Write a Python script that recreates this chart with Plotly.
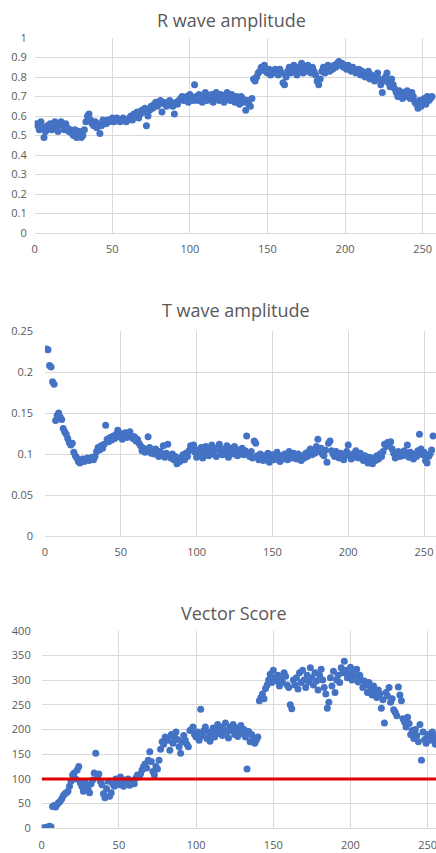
import plotly.graph_objects as go

# ---------------- data ----------------
beat_index = list(range(1, 257))

r_wave = [
    0.56, 0.55, 0.53, 0.57, 0.54, 0.49, 0.52, 0.55, 0.54, 0.56, 0.53, 0.55, 0.57, 0.54, 0.52, 0.56,
    0.57, 0.55, 0.53, 0.56, 0.54, 0.52, 0.53, 0.51, 0.50, 0.53, 0.49, 0.51, 0.52, 0.49, 0.50, 0.53,
    0.57, 0.60, 0.61, 0.58, 0.56, 0.55, 0.57, 0.54, 0.56, 0.51, 0.55, 0.58, 0.57, 0.56, 0.58, 0.57,
    0.58, 0.59, 0.57, 0.58, 0.59, 0.58, 0.57, 0.58, 0.59, 0.58, 0.57, 0.58, 0.59, 0.60, 0.58, 0.61,
    0.60, 0.62, 0.59, 0.61, 0.63, 0.62, 0.64, 0.55, 0.60, 0.63, 0.65, 0.64, 0.66, 0.67, 0.65, 0.66,
    0.68, 0.62, 0.67, 0.66, 0.65, 0.67, 0.68, 0.66, 0.65, 0.61, 0.67, 0.66, 0.68, 0.69, 0.70, 0.68,
    0.69, 0.70, 0.67, 0.71, 0.69, 0.68, 0.76, 0.70, 0.68, 0.71, 0.69, 0.67, 0.70, 0.72, 0.68, 0.70,
    0.69, 0.71, 0.67, 0.70, 0.72, 0.69, 0.68, 0.71, 0.70, 0.67, 0.69, 0.72, 0.70, 0.68, 0.71, 0.69,
    0.67, 0.70, 0.68, 0.66, 0.70, 0.69, 0.67, 0.63, 0.68, 0.66, 0.65, 0.69, 0.79, 0.78, 0.80, 0.82,
    0.83, 0.85, 0.84, 0.86, 0.83, 0.82, 0.84, 0.81, 0.83, 0.82, 0.84, 0.83, 0.81, 0.84, 0.82, 0.77,
    0.76, 0.80, 0.83, 0.85, 0.82, 0.84, 0.86, 0.83, 0.81, 0.85, 0.84, 0.87, 0.82, 0.85, 0.83, 0.86,
    0.84, 0.82, 0.85, 0.83, 0.81, 0.78, 0.76, 0.79, 0.83, 0.85, 0.82, 0.84, 0.86, 0.83, 0.85, 0.84,
    0.86, 0.85, 0.87, 0.88, 0.86, 0.87, 0.85, 0.86, 0.84, 0.86, 0.85, 0.83, 0.85, 0.84, 0.82, 0.83,
    0.84, 0.81, 0.83, 0.82, 0.80, 0.81, 0.83, 0.79, 0.81, 0.80, 0.78, 0.80, 0.82, 0.79, 0.76, 0.72,
    0.78, 0.80, 0.82, 0.77, 0.75, 0.79, 0.76, 0.74, 0.72, 0.70, 0.73, 0.71, 0.69, 0.72, 0.70, 0.73,
    0.71, 0.69, 0.72, 0.70, 0.67, 0.66, 0.64, 0.68, 0.65, 0.67, 0.69, 0.66, 0.70, 0.68, 0.69, 0.70,
]

t_wave = [
    0.228, 0.227, 0.208, 0.206, 0.188, 0.185, 0.141, 0.147, 0.150, 0.145, 0.142, 0.131, 0.127, 0.124, 0.119, 0.114,
    0.111, 0.113, 0.102, 0.098, 0.095, 0.091, 0.089, 0.092, 0.094, 0.091, 0.093, 0.095, 0.092, 0.094, 0.096, 0.093,
    0.097, 0.103, 0.108, 0.105, 0.110, 0.107, 0.112, 0.135, 0.118, 0.115, 0.120, 0.117, 0.122, 0.119, 0.124, 0.129,
    0.121, 0.125, 0.118, 0.123, 0.126, 0.120, 0.124, 0.127, 0.122, 0.119, 0.121, 0.116, 0.118, 0.113, 0.110, 0.104,
    0.107, 0.102, 0.105, 0.121, 0.108, 0.101, 0.104, 0.100, 0.106, 0.102, 0.097, 0.103, 0.099, 0.110, 0.096, 0.101,
    0.112, 0.098, 0.095, 0.100, 0.093, 0.097, 0.088, 0.094, 0.091, 0.096, 0.099, 0.093, 0.101, 0.097, 0.104, 0.110,
    0.107, 0.111, 0.102, 0.096, 0.105, 0.099, 0.108, 0.095, 0.102, 0.109, 0.104, 0.098, 0.106, 0.111, 0.100, 0.105,
    0.097, 0.108, 0.112, 0.103, 0.099, 0.106, 0.101, 0.110, 0.096, 0.104, 0.107, 0.100, 0.109, 0.103, 0.098, 0.105,
    0.101, 0.107, 0.099, 0.104, 0.122, 0.100, 0.097, 0.103, 0.095, 0.116, 0.113, 0.098, 0.093, 0.100, 0.096, 0.092,
    0.098, 0.094, 0.101, 0.090, 0.096, 0.099, 0.093, 0.097, 0.102, 0.095, 0.091, 0.098, 0.094, 0.100, 0.096, 0.093,
    0.103, 0.099, 0.095, 0.101, 0.097, 0.094, 0.100, 0.096, 0.092, 0.098, 0.095, 0.101, 0.097, 0.103, 0.106, 0.099,
    0.104, 0.101, 0.109, 0.118, 0.103, 0.107, 0.100, 0.098, 0.105, 0.090, 0.113, 0.116, 0.104, 0.100, 0.097, 0.103,
    0.099, 0.095, 0.101, 0.097, 0.093, 0.099, 0.103, 0.111, 0.098, 0.094, 0.100, 0.096, 0.104, 0.099, 0.095, 0.101,
    0.097, 0.092, 0.098, 0.094, 0.089, 0.096, 0.091, 0.088, 0.095, 0.092, 0.098, 0.094, 0.100, 0.097, 0.103, 0.112,
    0.109, 0.114, 0.111, 0.115, 0.106, 0.101, 0.095, 0.099, 0.103, 0.097, 0.101, 0.098, 0.104, 0.100, 0.111, 0.096,
    0.102, 0.098, 0.094, 0.100, 0.097, 0.104, 0.124, 0.106, 0.099, 0.102, 0.092, 0.089, 0.097, 0.100, 0.105, 0.122,
]

vector_score = [
    1, 0, 2, 1, 4, 3, 44, 46, 43, 48, 52, 55, 60, 66, 70, 72,
    75, 85, 95, 108, 112, 100, 118, 125, 92, 85, 75, 94, 88, 80, 72, 90,
    98, 112, 152, 105, 110, 95, 88, 70, 62, 80, 95, 65, 72, 90, 85, 100,
    92, 88, 104, 95, 85, 98, 90, 100, 87, 93, 96, 90, 102, 108, 104, 110,
    118, 125, 130, 122, 138, 155, 135, 115, 108, 125, 120, 138, 160, 175, 170, 185,
    180, 178, 158, 190, 172, 185, 195, 180, 165, 152, 175, 188, 178, 170, 165, 198,
    200, 205, 190, 185, 195, 178, 241, 188, 198, 205, 182, 195, 176, 190, 203, 185,
    198, 210, 192, 205, 188, 200, 213, 195, 183, 205, 198, 210, 190, 203, 186, 197,
    208, 192, 200, 185, 120, 196, 175, 190, 182, 172, 178, 185, 258, 265, 272, 262,
    283, 290, 300, 312, 295, 320, 305, 298, 310, 288, 302, 295, 315, 308, 290, 285,
    250, 242, 300, 290, 305, 282, 315, 295, 320, 300, 285, 310, 296, 325, 305, 290,
    315, 298, 280, 310, 322, 300, 285, 272, 243, 255, 305, 288, 318, 275, 300, 310,
    295, 325, 315, 338, 320, 305, 312, 326, 300, 318, 308, 322, 296, 310, 300, 285,
    298, 290, 275, 295, 282, 270, 288, 277, 265, 280, 272, 243, 260, 213, 275, 268,
    285, 255, 262, 240, 235, 228, 286, 270, 258, 222, 215, 205, 225, 212, 190, 198,
    182, 200, 188, 175, 210, 138, 195, 180, 172, 190, 185, 178, 195, 188, 170, 180,
]

threshold = 100
titles = ["R wave amplitude", "T wave amplitude", "Vector Score"]

# ---------------- figure ----------------
W, H = 436, 853
BLUE = "#4472C4"
GRID = "#d9d9d9"
TXT = "#595959"
FONT = "Open Sans"

fig = go.Figure()

def py(v):
    return (H - v) / H

panels = [
    dict(y=r_wave, yr=[0, 1], dt=0.1, left=34.7, top=38, bot=233, xmax=258.6,
         title_y=20, title_x=231.7, so=7),
    dict(y=t_wave, yr=[0, 0.25], dt=0.05, left=45, top=331, bot=536, xmax=257.9,
         title_y=310, title_x=235.8, so=11),
    dict(y=vector_score, yr=[0, 400], dt=50, left=41.7, top=630.7, bot=828.3, xmax=255.4,
         title_y=613, title_x=234, so=10),
]

for i, p in enumerate(panels, start=1):
    xa = "x" if i == 1 else f"x{i}"
    ya = "y" if i == 1 else f"y{i}"
    fig.add_trace(go.Scatter(
        x=beat_index, y=p["y"], mode="markers",
        marker=dict(color=BLUE, size=7, line=dict(width=0)),
        xaxis=xa, yaxis=ya, showlegend=False,
    ))
    axis_common = dict(
        showgrid=True, gridcolor=GRID, gridwidth=1, zeroline=False, automargin=False,
        tickfont=dict(family=FONT, size=11, color=TXT), ticks="",
    )
    fig.layout[f"xaxis{'' if i == 1 else i}"] = dict(
        axis_common, domain=[p["left"] / W, 1.0], range=[0, p["xmax"]],
        tick0=0, dtick=50, anchor=ya, showline=True, linecolor=GRID, linewidth=1,
        ticklabelstandoff=6, ticklabeloverflow="allow",
    )
    fig.layout[f"yaxis{'' if i == 1 else i}"] = dict(
        axis_common, domain=[py(p["bot"]), py(p["top"])], range=p["yr"],
        tick0=0, dtick=p["dt"], anchor=xa, showline=False, ticklabelstandoff=p["so"],
    )
    fig.add_annotation(
        text=titles[i - 1], x=p["title_x"] / W, y=py(p["title_y"]),
        xref="paper", yref="paper", showarrow=False, xanchor="center", yanchor="middle",
        font=dict(family=FONT, size=18, color=TXT),
    )

# threshold line on Vector Score
fig.add_trace(go.Scatter(
    x=[0, panels[2]["xmax"]], y=[threshold, threshold], mode="lines",
    line=dict(color="#e00000", width=3), xaxis="x3", yaxis="y3", showlegend=False,
))

fig.update_layout(
    width=W, height=H, margin=dict(l=0, r=0, t=0, b=0),
    paper_bgcolor="white", plot_bgcolor="white",
)

fig.write_html(
    "out.html",
    config={"displayModeBar": False},
    post_script="document.body.style.margin='0';document.body.style.overflow='hidden';",
)
